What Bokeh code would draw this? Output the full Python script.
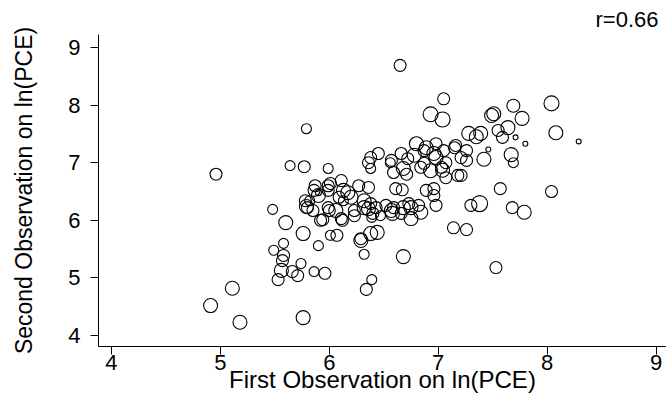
import numpy as np
from bokeh.plotting import figure
from bokeh.models import ColumnDataSource, Range1d, FixedTicker
from bokeh.embed import file_html
from bokeh.resources import INLINE

# First and second observations on ln(PCE), with analytic weights
first_obs = [4.96, 4.91, 5.11, 5.18, 5.76, 5.48, 5.60, 5.76, 5.90, 5.49,
             5.58, 5.58, 5.57, 5.74, 5.56, 5.66, 5.71, 5.53, 5.86, 5.96,
             5.80, 5.85, 5.94, 6.00, 6.01, 5.79, 5.64, 5.77, 5.99, 5.87,
             5.99, 5.79, 5.82, 6.01, 6.11, 6.13, 5.99, 6.20, 6.27, 6.36,
             6.32, 6.38, 5.99, 6.06, 6.23, 6.40, 6.07, 6.12, 6.23, 6.32,
             6.39, 6.29, 6.38, 6.44, 6.32, 6.68, 6.39, 6.34, 6.59, 6.68,
             6.75, 6.82, 6.58, 6.75, 6.84, 6.98, 6.67, 6.89, 6.96, 7.30,
             7.38, 7.68, 7.79, 7.14, 7.26, 7.53, 7.21, 7.57, 8.04, 7.26,
             7.42, 7.69, 7.67, 7.46, 7.16, 7.26, 7.21, 7.05, 7.28, 7.35,
             7.39, 7.49, 7.51, 7.69, 8.04, 7.77, 7.64, 7.55, 7.59, 7.71,
             7.80, 8.29, 8.08, 7.05, 6.93, 7.04, 6.65, 6.38, 6.36, 6.45,
             6.38, 6.57, 6.66, 6.72, 6.68, 6.59, 6.71, 6.80, 6.87, 6.84,
             6.98, 6.98, 6.93, 7.03, 7.07, 7.15, 7.07, 7.18, 6.56, 6.78,
             6.89, 6.96, 7.04, 5.90, 6.13, 6.52, 6.47, 5.86, 6.09, 6.17,
             5.90, 6.36, 6.43, 6.11, 5.92, 5.78, 6.29, 6.57, 6.61, 6.87,
             6.96, 6.73, 6.66]
second_obs = [6.80, 4.52, 4.82, 4.23, 4.31, 6.19, 5.96, 5.77, 5.56, 5.48,
              5.60, 5.39, 5.30, 5.25, 5.13, 5.11, 5.04, 4.97, 5.11, 5.08,
              6.22, 6.17, 6.01, 6.17, 5.74, 7.59, 6.95, 6.93, 6.90, 6.60,
              6.60, 6.24, 6.34, 6.64, 6.69, 6.52, 6.52, 6.40, 6.60, 6.57,
              6.34, 6.29, 6.22, 6.17, 6.17, 6.12, 5.74, 6.00, 6.08, 6.22,
              6.05, 5.65, 5.77, 5.79, 5.41, 5.37, 4.97, 4.80, 6.22, 6.22,
              6.22, 6.26, 6.12, 6.03, 6.14, 6.26, 6.53, 6.52, 6.43, 6.26,
              6.29, 6.22, 6.14, 5.87, 5.84, 5.18, 6.78, 6.55, 6.50, 7.04,
              7.06, 7.00, 7.14, 7.23, 7.30, 7.21, 7.09, 7.21, 7.51, 7.45,
              7.51, 7.82, 7.85, 7.99, 8.03, 7.77, 7.61, 7.56, 7.44, 7.44,
              7.33, 7.37, 7.52, 8.11, 7.84, 7.75, 8.69, 7.09, 7.00, 7.16,
              6.90, 7.04, 7.16, 7.07, 6.90, 6.83, 6.80, 7.33, 7.21, 6.92,
              7.33, 7.09, 6.86, 6.92, 7.00, 7.26, 6.74, 6.78, 7.00, 7.13,
              7.26, 7.16, 6.87, 6.43, 6.34, 6.26, 6.08, 6.52, 6.40, 6.48,
              6.48, 6.20, 6.22, 6.03, 6.00, 6.34, 5.68, 6.17, 6.55, 6.99,
              6.55, 6.29, 6.12]
weight = [100, 136, 136, 136, 136, 69, 136, 136, 69, 69,
          69, 100, 100, 69, 136, 100, 100, 100, 69, 100,
          100, 100, 100, 100, 69, 69, 69, 100, 69, 100,
          100, 136, 69, 100, 100, 136, 100, 136, 100, 100,
          136, 100, 100, 136, 100, 100, 100, 100, 100, 136,
          69, 136, 136, 136, 69, 136, 69, 100, 100, 136,
          136, 100, 136, 136, 136, 100, 100, 100, 100, 100,
          178, 100, 136, 100, 100, 100, 100, 100, 100, 100,
          136, 69, 136, 17, 100, 100, 100, 100, 136, 136,
          136, 136, 136, 117, 156, 136, 136, 100, 100, 17,
          17, 17, 136, 100, 156, 156, 100, 100, 100, 100,
          69, 100, 100, 100, 136, 100, 100, 136, 100, 100,
          100, 136, 136, 100, 100, 100, 100, 100, 69, 136,
          136, 136, 136, 136, 69, 100, 69, 100, 100, 136,
          25, 136, 100, 100, 100, 100, 100, 136, 100, 100,
          100, 100, 100]

x_ticks = [4, 5, 6, 7, 8, 9]
y_ticks = [4, 5, 6, 7, 8, 9]
corr_text = "r=0.66"
x_title = "First Observation on ln(PCE)"
y_title = "Second Observation on ln(PCE)"

FONT = "Liberation Sans"

w = np.array(weight, dtype=float)
src = ColumnDataSource(dict(x=first_obs, y=second_obs, s=12.0 * np.sqrt(w / 100.0)))

p = figure(width=666, height=402, output_backend="svg", toolbar_location=None,
           x_range=Range1d(3.881, 9.096), y_range=Range1d(3.809, 9.226),
           min_border_left=98, min_border_right=0, min_border_top=34,
           min_border_bottom=56)

p.scatter("x", "y", size="s", source=src, marker="circle", fill_color=None,
          line_color="black", line_width=1.1)

p.title.text = corr_text
p.title.align = "right"
p.title.offset = 8
p.title.text_font = FONT
p.title.text_font_size = "22px"
p.title.text_font_style = "normal"
p.title.text_color = "black"
p.title.standoff = 6

p.outline_line_color = None
p.background_fill_color = "white"
p.border_fill_color = "white"
p.xgrid.grid_line_color = None
p.ygrid.grid_line_color = None

for ax, ticks in ((p.xaxis[0], x_ticks), (p.yaxis[0], y_ticks)):
    ax.ticker = FixedTicker(ticks=ticks)
    ax.minor_tick_line_color = None
    ax.major_tick_out = 8
    ax.major_tick_in = 0
    ax.axis_line_color = "black"
    ax.major_tick_line_color = "black"
    ax.axis_line_width = 1
    ax.major_label_text_font = FONT
    ax.major_label_text_font_size = "22px"
    ax.major_label_text_color = "black"
    ax.axis_label_text_font = FONT
    ax.axis_label_text_font_style = "normal"
    ax.axis_label_text_color = "black"

p.xaxis.axis_label = x_title
p.xaxis.axis_label_text_font_size = "24px"
p.xaxis.major_label_standoff = 0
p.xaxis.axis_label_standoff = -7

p.yaxis.axis_label = y_title
p.yaxis.axis_label_text_font_size = "23px"
p.yaxis.major_label_standoff = 10
p.yaxis.axis_label_standoff = 28

open("out.html", "w").write(file_html(p, INLINE))
